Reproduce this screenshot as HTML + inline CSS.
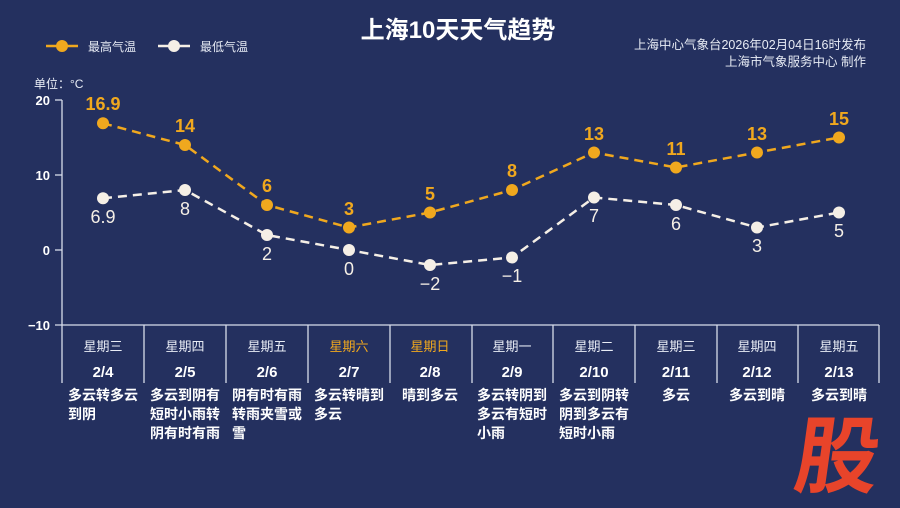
<!DOCTYPE html>
<html><head><meta charset="utf-8"><style>
html,body{margin:0;padding:0;background:#24305f;}
svg{display:block;}
text{font-family:"Liberation Sans","Noto Sans CJK SC",sans-serif;}
</style></head><body>
<svg width="900" height="508" viewBox="0 0 900 508" xmlns="http://www.w3.org/2000/svg">
<rect width="900" height="508" fill="#24305f"/>
<text x="458" y="38" text-anchor="middle" font-size="24" font-weight="bold" fill="#fff">上海10天天气趋势</text>
<text x="866" y="49" text-anchor="end" font-size="12.5" fill="#e8ecf5">上海中心气象台2026年02月04日16时发布</text>
<text x="866" y="66" text-anchor="end" font-size="12.5" fill="#e8ecf5">上海市气象服务中心 制作</text>
<line x1="46" y1="46" x2="78" y2="46" stroke="#f0a81e" stroke-width="2.5"/><circle cx="62" cy="46" r="6" fill="#f0a81e"/>
<text x="88" y="51" font-size="12" fill="#e8ecf5">最高气温</text>
<line x1="158" y1="46" x2="190" y2="46" stroke="#f5efe6" stroke-width="2.5"/><circle cx="174" cy="46" r="6" fill="#f5efe6"/>
<text x="200" y="51" font-size="12" fill="#e8ecf5">最低气温</text>
<text x="34" y="88" font-size="12" fill="#e8ecf5">单位：°C</text>
<g fill="#fff" font-size="13" font-weight="bold" text-anchor="end">
<text x="50" y="105">20</text><text x="50" y="180">10</text><text x="50" y="255">0</text><text x="50" y="330">−10</text></g>
<g stroke="#d8dcea" stroke-width="1.3">
<line x1="62" y1="100" x2="62" y2="383"/>
<line x1="55" y1="100" x2="62" y2="100"/><line x1="55" y1="175" x2="62" y2="175"/><line x1="55" y1="250" x2="62" y2="250"/>
<line x1="55" y1="325" x2="879" y2="325"/>
<line x1="144" y1="325" x2="144" y2="383"/><line x1="226" y1="325" x2="226" y2="383"/><line x1="308" y1="325" x2="308" y2="383"/><line x1="390" y1="325" x2="390" y2="383"/><line x1="472" y1="325" x2="472" y2="383"/><line x1="553" y1="325" x2="553" y2="383"/><line x1="635" y1="325" x2="635" y2="383"/><line x1="717" y1="325" x2="717" y2="383"/><line x1="798" y1="325" x2="798" y2="383"/><line x1="879" y1="325" x2="879" y2="383"/>
</g>
<polyline fill="none" stroke="#f0a81e" stroke-width="2.5" stroke-dasharray="9,6" points="103,123.3 185,145 267,205 349,227.5 430,212.5 512,190 594,152.5 676,167.5 757,152.5 839,137.5"/>
<polyline fill="none" stroke="#f5efe6" stroke-width="2.5" stroke-dasharray="9,6" points="103,198.3 185,190 267,235 349,250 430,265 512,257.5 594,197.5 676,205 757,227.5 839,212.5"/>
<g fill="#f0a81e">
<circle cx="103" cy="123.3" r="6"/><circle cx="185" cy="145" r="6"/><circle cx="267" cy="205" r="6"/><circle cx="349" cy="227.5" r="6"/><circle cx="430" cy="212.5" r="6"/><circle cx="512" cy="190" r="6"/><circle cx="594" cy="152.5" r="6"/><circle cx="676" cy="167.5" r="6"/><circle cx="757" cy="152.5" r="6"/><circle cx="839" cy="137.5" r="6"/></g>
<g fill="#f5efe6">
<circle cx="103" cy="198.3" r="6"/><circle cx="185" cy="190" r="6"/><circle cx="267" cy="235" r="6"/><circle cx="349" cy="250" r="6"/><circle cx="430" cy="265" r="6"/><circle cx="512" cy="257.5" r="6"/><circle cx="594" cy="197.5" r="6"/><circle cx="676" cy="205" r="6"/><circle cx="757" cy="227.5" r="6"/><circle cx="839" cy="212.5" r="6"/></g>
<g fill="#f0a81e" font-size="18" font-weight="bold" text-anchor="middle">
<text x="103" y="110">16.9</text><text x="185" y="132">14</text><text x="267" y="192">6</text><text x="349" y="215">3</text><text x="430" y="200">5</text><text x="512" y="177">8</text><text x="594" y="140">13</text><text x="676" y="155">11</text><text x="757" y="140">13</text><text x="839" y="125">15</text></g>
<g fill="#f5efe6" font-size="18" text-anchor="middle">
<text x="103" y="223">6.9</text><text x="185" y="215">8</text><text x="267" y="260">2</text><text x="349" y="275">0</text><text x="430" y="290">−2</text><text x="512" y="282">−1</text><text x="594" y="222">7</text><text x="676" y="230">6</text><text x="757" y="252">3</text><text x="839" y="237">5</text></g>
<g font-size="13" text-anchor="middle" fill="#e8ecf5">
<text x="103" y="351">星期三</text><text x="185" y="351">星期四</text><text x="267" y="351">星期五</text><text x="349" y="351" fill="#f0a81e">星期六</text><text x="430" y="351" fill="#f0a81e">星期日</text><text x="512" y="351">星期一</text><text x="594" y="351">星期二</text><text x="676" y="351">星期三</text><text x="757" y="351">星期四</text><text x="839" y="351">星期五</text></g>
<g font-size="15" font-weight="bold" text-anchor="middle" fill="#fff">
<text x="103" y="377">2/4</text><text x="185" y="377">2/5</text><text x="267" y="377">2/6</text><text x="349" y="377">2/7</text><text x="430" y="377">2/8</text><text x="512" y="377">2/9</text><text x="594" y="377">2/10</text><text x="676" y="377">2/11</text><text x="757" y="377">2/12</text><text x="839" y="377">2/13</text></g>
<g font-size="14" font-weight="bold" fill="#fff">
<text x="68" y="400">多云转多云</text><text x="68" y="419">到阴</text>
<text x="150" y="400">多云到阴有</text><text x="150" y="419">短时小雨转</text><text x="150" y="438">阴有时有雨</text>
<text x="232" y="400">阴有时有雨</text><text x="232" y="419">转雨夹雪或</text><text x="232" y="438">雪</text>
<text x="314" y="400">多云转晴到</text><text x="314" y="419">多云</text>
<text x="430" y="400" text-anchor="middle">晴到多云</text>
<text x="477" y="400">多云转阴到</text><text x="477" y="419">多云有短时</text><text x="477" y="438">小雨</text>
<text x="559" y="400">多云到阴转</text><text x="559" y="419">阴到多云有</text><text x="559" y="438">短时小雨</text>
<text x="676" y="400" text-anchor="middle">多云</text>
<text x="757" y="400" text-anchor="middle">多云到晴</text>
<text x="839" y="400" text-anchor="middle">多云到晴</text>
</g>
<text x="834" y="486" text-anchor="middle" font-size="84" font-weight="bold" fill="#e8442a" transform="skewX(-8) translate(68,0)">股</text>
</svg>
</body></html>
